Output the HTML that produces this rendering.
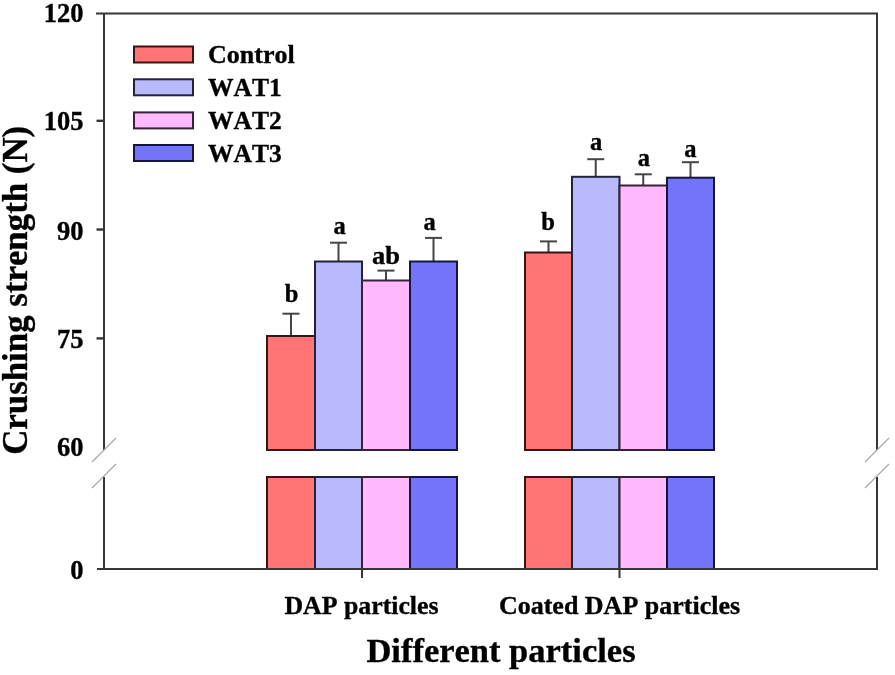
<!DOCTYPE html>
<html><head><meta charset="utf-8"><style>
html,body{margin:0;padding:0;background:#fff;width:895px;height:675px;overflow:hidden}
svg{display:block;filter:blur(0.6px)}
text{font-family:"Liberation Serif",serif;font-weight:bold;fill:#000;stroke:#000;stroke-width:0.35px;font-kerning:none}
</style></head><body>
<svg width="895" height="675" viewBox="0 0 895 675">
<rect width="895" height="675" fill="#fff"/>
<line x1="291.0" y1="336" x2="291.0" y2="313.7" stroke="#454545" stroke-width="2"/>
<line x1="282.5" y1="313.7" x2="299.5" y2="313.7" stroke="#454545" stroke-width="2"/>
<rect x="267" y="336" width="48" height="114" fill="#ff7474" stroke="#3a1414" stroke-width="2"/>
<rect x="267" y="477" width="48" height="92" fill="#ff7474" stroke="#3a1414" stroke-width="2"/>
<line x1="338.5" y1="261.5" x2="338.5" y2="242.7" stroke="#454545" stroke-width="2"/>
<line x1="330.0" y1="242.7" x2="347.0" y2="242.7" stroke="#454545" stroke-width="2"/>
<rect x="315" y="261.5" width="47" height="188.5" fill="#b9b9fd" stroke="#22223e" stroke-width="2"/>
<rect x="315" y="477" width="47" height="92" fill="#b9b9fd" stroke="#22223e" stroke-width="2"/>
<line x1="386.0" y1="280.5" x2="386.0" y2="270.6" stroke="#454545" stroke-width="2"/>
<line x1="377.5" y1="270.6" x2="394.5" y2="270.6" stroke="#454545" stroke-width="2"/>
<rect x="362" y="280.5" width="48" height="169.5" fill="#ffbaff" stroke="#3a203a" stroke-width="2"/>
<rect x="362" y="477" width="48" height="92" fill="#ffbaff" stroke="#3a203a" stroke-width="2"/>
<line x1="433.5" y1="261.5" x2="433.5" y2="237.9" stroke="#454545" stroke-width="2"/>
<line x1="425.0" y1="237.9" x2="442.0" y2="237.9" stroke="#454545" stroke-width="2"/>
<rect x="410" y="261.5" width="47" height="188.5" fill="#7474fb" stroke="#16163c" stroke-width="2"/>
<rect x="410" y="477" width="47" height="92" fill="#7474fb" stroke="#16163c" stroke-width="2"/>
<line x1="548.5" y1="252.5" x2="548.5" y2="241.4" stroke="#454545" stroke-width="2"/>
<line x1="540.0" y1="241.4" x2="557.0" y2="241.4" stroke="#454545" stroke-width="2"/>
<rect x="525" y="252.5" width="47" height="197.5" fill="#ff7474" stroke="#3a1414" stroke-width="2"/>
<rect x="525" y="477" width="47" height="92" fill="#ff7474" stroke="#3a1414" stroke-width="2"/>
<line x1="595.75" y1="176.8" x2="595.75" y2="159.2" stroke="#454545" stroke-width="2"/>
<line x1="587.25" y1="159.2" x2="604.25" y2="159.2" stroke="#454545" stroke-width="2"/>
<rect x="572" y="176.8" width="47.5" height="273.2" fill="#b9b9fd" stroke="#22223e" stroke-width="2"/>
<rect x="572" y="477" width="47.5" height="92" fill="#b9b9fd" stroke="#22223e" stroke-width="2"/>
<line x1="643.25" y1="185.5" x2="643.25" y2="174.3" stroke="#454545" stroke-width="2"/>
<line x1="634.75" y1="174.3" x2="651.75" y2="174.3" stroke="#454545" stroke-width="2"/>
<rect x="619.5" y="185.5" width="47.5" height="264.5" fill="#ffbaff" stroke="#3a203a" stroke-width="2"/>
<rect x="619.5" y="477" width="47.5" height="92" fill="#ffbaff" stroke="#3a203a" stroke-width="2"/>
<line x1="690.5" y1="177.7" x2="690.5" y2="162.2" stroke="#454545" stroke-width="2"/>
<line x1="682.0" y1="162.2" x2="699.0" y2="162.2" stroke="#454545" stroke-width="2"/>
<rect x="667" y="177.7" width="47" height="272.3" fill="#7474fb" stroke="#16163c" stroke-width="2"/>
<rect x="667" y="477" width="47" height="92" fill="#7474fb" stroke="#16163c" stroke-width="2"/>
<line x1="96" y1="13.5" x2="878" y2="13.5" stroke="#363636" stroke-width="2"/>
<line x1="104" y1="13.5" x2="104" y2="450" stroke="#363636" stroke-width="2"/>
<line x1="104" y1="477" x2="104" y2="569" stroke="#363636" stroke-width="2"/>
<line x1="877" y1="13.5" x2="877" y2="450" stroke="#363636" stroke-width="2"/>
<line x1="877" y1="477" x2="877" y2="569" stroke="#363636" stroke-width="2"/>
<line x1="97" y1="569" x2="878" y2="569" stroke="#363636" stroke-width="2"/>
<line x1="96.5" y1="120.8" x2="104" y2="120.8" stroke="#363636" stroke-width="2.4"/>
<line x1="96.5" y1="229.5" x2="104" y2="229.5" stroke="#363636" stroke-width="2.4"/>
<line x1="96.5" y1="338.4" x2="104" y2="338.4" stroke="#363636" stroke-width="2.4"/>
<line x1="362" y1="569" x2="362" y2="578" stroke="#363636" stroke-width="2"/>
<line x1="619.5" y1="569" x2="619.5" y2="578" stroke="#363636" stroke-width="2"/>
<line x1="92" y1="462" x2="116" y2="438" stroke="#a4a4a4" stroke-width="1.1"/>
<line x1="92" y1="488" x2="116" y2="464" stroke="#a4a4a4" stroke-width="1.1"/>
<line x1="865" y1="462" x2="889" y2="438" stroke="#a4a4a4" stroke-width="1.1"/>
<line x1="865" y1="488" x2="889" y2="464" stroke="#a4a4a4" stroke-width="1.1"/>
<text x="83.5" y="22.4" font-size="26.5" text-anchor="end" >120</text>
<text x="83.5" y="130.29999999999998" font-size="26.5" text-anchor="end" >105</text>
<text x="83.5" y="239.5" font-size="26.5" text-anchor="end" >90</text>
<text x="83.5" y="348.2" font-size="26.5" text-anchor="end" >75</text>
<text x="83.5" y="456.0" font-size="26.5" text-anchor="end" >60</text>
<text x="83.5" y="579.4000000000001" font-size="26.5" text-anchor="end" >0</text>
<text x="291.5" y="301.5" font-size="24.5" text-anchor="middle" >b</text>
<text x="339.5" y="234.4" font-size="24.5" text-anchor="middle" >a</text>
<text x="386" y="263.7" font-size="24.5" text-anchor="middle" textLength="28" lengthAdjust="spacingAndGlyphs" >ab</text>
<text x="429.5" y="230.4" font-size="24.5" text-anchor="middle" >a</text>
<text x="548" y="229.6" font-size="24.5" text-anchor="middle" >b</text>
<text x="596" y="150.1" font-size="24.5" text-anchor="middle" >a</text>
<text x="643.8" y="166.2" font-size="24.5" text-anchor="middle" >a</text>
<text x="690.4" y="157.2" font-size="24.5" text-anchor="middle" >a</text>
<rect x="134" y="46.5" width="59" height="16" fill="#ff7474" stroke="#3a1414" stroke-width="2"/>
<text x="208" y="63.0" font-size="26" text-anchor="start" >Control</text>
<rect x="134" y="79.3" width="59" height="16" fill="#b9b9fd" stroke="#22223e" stroke-width="2"/>
<text x="208" y="95.8" font-size="25.5" text-anchor="start" >WAT1</text>
<rect x="134" y="112.4" width="59" height="16" fill="#ffbaff" stroke="#3a203a" stroke-width="2"/>
<text x="208" y="128.9" font-size="25.5" text-anchor="start" >WAT2</text>
<rect x="134" y="145" width="59" height="16" fill="#7474fb" stroke="#16163c" stroke-width="2"/>
<text x="208" y="161.5" font-size="25.5" text-anchor="start" >WAT3</text>
<text x="361.5" y="614" font-size="25.8" text-anchor="middle" >DAP particles</text>
<text x="619.5" y="614" font-size="26" text-anchor="middle" >Coated DAP particles</text>
<text x="501" y="662" font-size="34.5" text-anchor="middle" >Different particles</text>
<text x="0" y="0" font-size="35.5" text-anchor="start" textLength="329" lengthAdjust="spacingAndGlyphs" transform="translate(27.3,454.8) rotate(-90)">Crushing strength (N)</text>
</svg></body></html>
